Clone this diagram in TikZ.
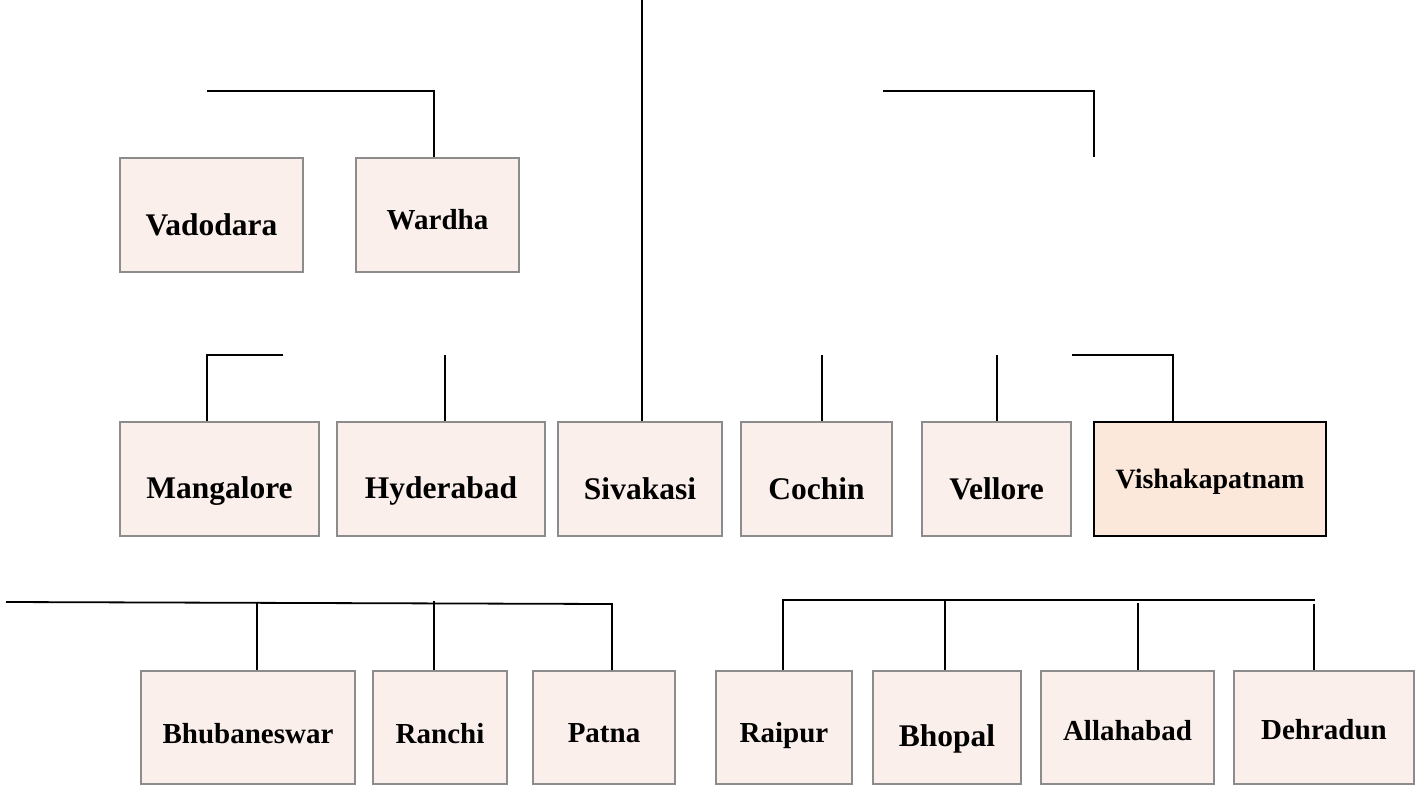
\documentclass[tikz,border=0pt]{standalone}
\usepackage{fontspec}
\setmainfont{Liberation Serif}
\usepackage{tikz}
\usetikzlibrary{positioning}

\definecolor{boxpink}{HTML}{FBEFEB}
\definecolor{boxpeach}{HTML}{FCE8DA}
\definecolor{boxgray}{HTML}{8C8C8C}

\begin{document}
\begin{tikzpicture}[x=1pt,y=-1pt,
  city/.style={rectangle,draw=boxgray,fill=boxpink,line width=2pt,inner sep=0pt,
    minimum height=114pt,text depth=0pt,font=\bfseries\fontsize{31.5}{36}\selectfont},
  small/.style={font=\bfseries\fontsize{29}{34}\selectfont},
  low/.style={minimum height=113pt},
  link/.style={line width=1.8pt}]
  \useasboundingbox (0,0) rectangle (1423,787);

  % first row
  \node[city,minimum width=183pt,text height=40pt] (vadodara) at (211.5,215) {Vadodara};
  \node[city,small,minimum width=163pt,text height=28pt,right=51pt of vadodara] (wardha) {Wardha};

  % second row
  \node[city,minimum width=199pt,text height=38pt] (mangalore) at (219.5,479) {Mangalore};
  \node[city,minimum width=208pt,text height=38pt,right=16pt of mangalore] (hyderabad) {Hyderabad};
  \node[city,minimum width=164pt,text height=40pt,right=11pt of hyderabad] (sivakasi) {Sivakasi};
  \node[city,minimum width=151pt,text height=40pt,right=17pt of sivakasi] (cochin) {Cochin};
  \node[city,minimum width=149pt,text height=40pt,right=28pt of cochin] (vellore) {Vellore};
  \node[city,draw=black,fill=boxpeach,font=\bfseries\fontsize{28}{33}\selectfont,
        minimum width=232pt,text height=18pt,right=21pt of vellore] (vizag) {Vishakapatnam};

  % third row
  \node[city,small,low,minimum width=214pt,text height=32pt] (bhubaneswar) at (248,727.5) {Bhubaneswar};
  \node[city,small,low,minimum width=134pt,text height=32pt,right=16pt of bhubaneswar] (ranchi) {Ranchi};
  \node[city,small,low,minimum width=142pt,text height=30pt,right=24pt of ranchi] (patna) {Patna};
  \node[city,small,low,minimum width=136pt,text height=30pt,right=39pt of patna] (raipur) {Raipur};
  \node[city,low,minimum width=148pt,text height=38pt,right=19pt of raipur] (bhopal) {Bhopal};
  \node[city,small,low,minimum width=173pt,text height=26pt,right=18pt of bhopal] (allahabad) {Allahabad};
  \node[city,small,low,minimum width=180pt,text height=24pt,right=18pt of allahabad] (dehradun) {Dehradun};

  % top lines
  \coordinate (sivtop) at (642,0);
  \draw[link] (sivtop) -- (sivtop |- sivakasi.north);
  \coordinate (wdend) at (207,91);
  \coordinate (wdbar) at (434,91);
  \draw[link] (wdend) -- (wdbar) -- (wdbar |- wardha.north);
  \coordinate (trend) at (883,91);
  \coordinate (trdrop) at (1094,157);
  \draw[link] (trend) -| (trdrop);

  % lines into the second row
  \coordinate (mgend) at (283,355);
  \coordinate (mgbar) at (207,355);
  \draw[link] (mgend) -- (mgbar) -- (mgbar |- mangalore.north);
  \coordinate (hybar) at (445,355);
  \draw[link] (hybar) -- (hybar |- hyderabad.north);
  \coordinate (cobar) at (822,355);
  \draw[link] (cobar) -- (cobar |- cochin.north);
  \coordinate (vebar) at (997,355);
  \draw[link] (vebar) -- (vebar |- vellore.north);
  \coordinate (vzend) at (1072,355);
  \coordinate (vzbar) at (1173,355);
  \draw[link] (vzend) -- (vzbar) -- (vzbar |- vizag.north);

  % lines into the third row
  \coordinate (westend) at (6,602);
  \coordinate (ptbar) at (612,604);
  \draw[link] (westend) -- (ptbar) -- (ptbar |- patna.north);
  \coordinate (bhbar) at (257,603);
  \draw[link] (bhbar) -- (bhbar |- bhubaneswar.north);
  \coordinate (rabar) at (434,601);
  \draw[link] (rabar) -- (rabar |- ranchi.north);
  \coordinate (rpbar) at (783,600);
  \coordinate (eastend) at (1315,600);
  \draw[link] (rpbar |- raipur.north) -- (rpbar) -- (eastend);
  \coordinate (bpbar) at (945,600);
  \draw[link] (bpbar) -- (bpbar |- bhopal.north);
  \coordinate (albar) at (1138,603);
  \draw[link] (albar) -- (albar |- allahabad.north);
  \coordinate (dhbar) at (1314,604);
  \draw[link] (dhbar) -- (dhbar |- dehradun.north);
\end{tikzpicture}
\end{document}
